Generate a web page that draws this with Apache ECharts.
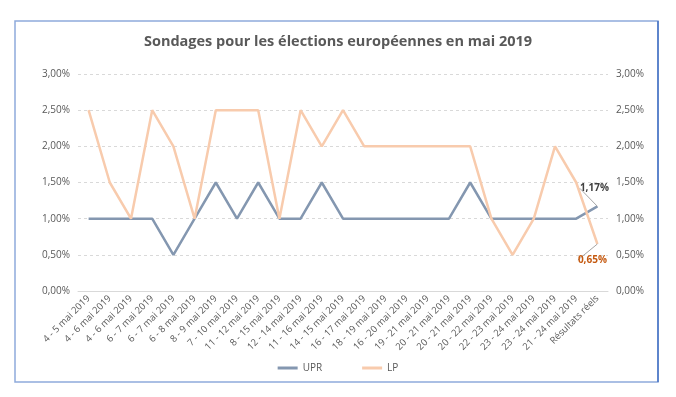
<!DOCTYPE html>
<html>
<head>
<meta charset="utf-8">
<script src="https://cdn.jsdelivr.net/npm/echarts@6/dist/echarts.min.js"></script>
<style>
html,body{margin:0;padding:0;background:#fff;}
#main{width:676px;height:397px;}
</style>
</head>
<body>
<div id="main"></div>
<script>
// sondages, valeurs en %
var categories = ['4 - 5 mai 2019', '4 - 6 mai 2019', '4 - 6 mai 2019', '6 - 7 mai 2019', '6 - 7 mai 2019',
	'6 - 8 mai 2019', '8 - 9 mai 2019', '7 - 10 mai 2019', '11 - 12 mai 2019', '8 - 15 mai 2019',
	'12 - 14 mai 2019', '11 - 16 mai 2019', '14 - 15 mai 2019', '16 - 17 mai 2019', '18 - 19 mai 2019',
	'16 - 20 mai 2019', '19 - 21 mai 2019', '20 - 21 mai 2019', '20 - 21 mai 2019', '20 - 22 mai 2019',
	'22 - 23 mai 2019', '23 - 24 mai 2019', '23 - 24 mai 2019', '21 - 24 mai 2019', 'Résultats réels'];
var upr = [1, 1, 1, 1, 0.5, 1, 1.5, 1, 1.5, 1, 1, 1.5, 1, 1, 1, 1, 1, 1, 1.5, 1, 1, 1, 1, 1, 1.17];
var lp = [2.5, 1.5, 1, 2.5, 2, 1, 2.5, 2.5, 2.5, 1, 2.5, 2, 2.5, 2, 2, 2, 2, 2, 2, 1, 0.5, 1, 2, 1.5, 0.65];

var last = categories.length - 1;
function pct(v) {
	return v.toFixed(2).replace('.', ',') + '%';
}
// seul le dernier point (résultat réel) porte une étiquette
function withLastLabel(arr, lbl) {
	return arr.map(function(v, i) {
		return i === last ? { value: v, label: lbl } : v;
	});
}

var myChart = echarts.init(document.getElementById('main'));
var axisLbl = { color: '#595959', fontSize: 10, fontFamily: 'Open Sans', formatter: pct };
option = {
	animation: false,
	backgroundColor: '#fff',
	textStyle: { fontFamily: 'Open Sans' },
	title: {
		text: 'Sondages pour les élections européennes en mai 2019',
		left: 'center',
		top: 29,
		textStyle: { color: '#595959', fontSize: 14.5, fontWeight: 'bold', fontFamily: 'Open Sans' }
	},
	legend: {
		bottom: 19,
		left: 'center',
		itemGap: 40,
		itemWidth: 20,
		itemHeight: 3,
		icon: 'rect',
		textStyle: { color: '#595959', fontSize: 10 },
		data: ['UPR', 'LP']
	},
	grid: { left: 78, right: 68, top: 74, bottom: 106 },
	xAxis: {
		type: 'category',
		data: categories,
		axisTick: { show: false },
		axisLine: { lineStyle: { color: '#d9d9d9' } },
		axisLabel: { interval: 0, rotate: 45, color: '#595959', fontSize: 9.5, margin: 6 }
	},
	yAxis: [{
		type: 'value', min: 0, max: 3, interval: 0.5,
		axisLabel: axisLbl,
		splitLine: { lineStyle: { color: '#d9d9d9', type: [3, 3] } }
	}, {
		type: 'value', min: 0, max: 3, interval: 0.5,
		axisLabel: axisLbl,
		splitLine: { show: false }
	}],
	series: [{
		name: 'UPR',
		type: 'line',
		data: withLastLabel(upr, {
			show: true, position: 'top', formatter: function(p) { return pct(p.value); },
			color: '#404040', fontSize: 10, fontWeight: 'bold'
		}),
		symbol: 'circle',
		symbolSize: 0,
		showSymbol: true,
		color: '#8497b0',
		lineStyle: { width: 2.5 },
		label: { show: false },
		labelLayout: function(p) { return p.dataIndex === last ? { dx: -3, dy: -8 } : {}; },
		labelLine: { show: true, lineStyle: { color: '#a6a6a6', width: 1 } }
	}, {
		name: 'LP',
		type: 'line',
		data: withLastLabel(lp, {
			show: true, position: 'bottom', formatter: function(p) { return pct(p.value); },
			color: '#c55a11', fontSize: 10, fontWeight: 'bold'
		}),
		symbol: 'circle',
		symbolSize: 0,
		showSymbol: true,
		color: '#f8cbad',
		lineStyle: { width: 2.5 },
		label: { show: false },
		labelLayout: function(p) { return p.dataIndex === last ? { dx: -5, dy: 6 } : {}; },
		labelLine: { show: true, lineStyle: { color: '#a6a6a6', width: 1 } }
	}],
	graphic: [{
		type: 'rect',
		shape: { x: 15, y: 21, width: 643, height: 361 },
		style: { fill: 'none', stroke: '#8eaadb', lineWidth: 1.5 },
		silent: true
	}, {
		type: 'line',
		shape: { x1: 658, y1: 21, x2: 658, y2: 382 },
		style: { stroke: '#4472c4', lineWidth: 1.5 },
		silent: true
	}]
};
myChart.setOption(option);
</script>
</body>
</html>
